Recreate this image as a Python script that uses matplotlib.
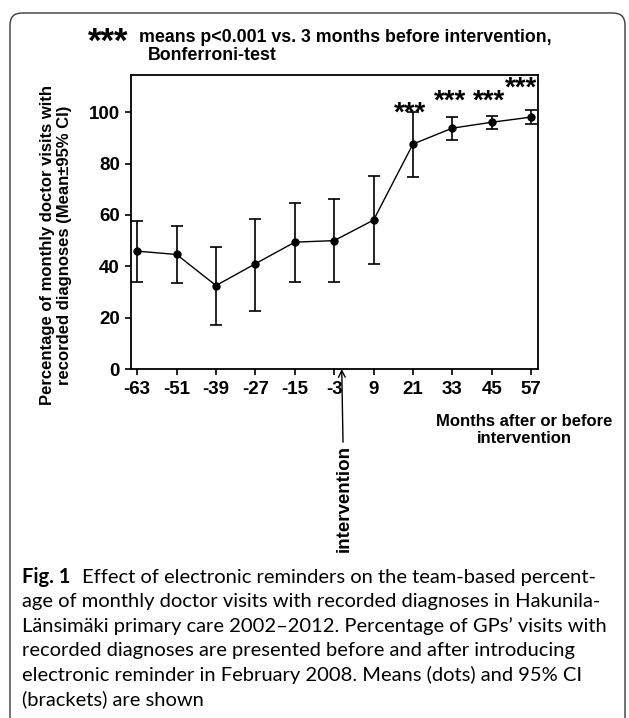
import matplotlib
matplotlib.use("Agg")
import matplotlib.pyplot as plt
from matplotlib.patches import FancyBboxPatch
import numpy as np

# months relative to the intervention (Feb 2008)
months = [-63, -51, -39, -27, -15, -3, 9, 21, 33, 45, 57]
mean_pct = [45.9, 44.6, 32.5, 41.0, 49.4, 50.0, 58.0, 87.6, 93.8, 96.1, 98.1]
ci_low = [33.8, 33.5, 17.0, 22.6, 33.8, 33.8, 40.7, 74.9, 89.3, 93.5, 95.5]
ci_high = [57.5, 55.6, 47.5, 58.3, 64.8, 66.1, 75.3, 100.0, 98.1, 98.7, 100.7]

xtick_labels = ["-63", "-51", "-39", "-27", "-15", "-3", "9", "21", "33", "45", "57"]
yticks = [0, 20, 40, 60, 80, 100]

# significance stars (x, y in data units)
star_x = [20.0, 32.3, 44.3, 53.8]
star_y = [99.5, 104.0, 104.0, 109.0]

caption_lines = [
    "age of monthly doctor visits with recorded diagnoses in Hakunila-",
    "Länsimäki primary care 2002–2012. Percentage of GPs’ visits with",
    "recorded diagnoses are presented before and after introducing",
    "electronic reminder in February 2008. Means (dots) and 95% CI",
    "(brackets) are shown",
]

W, H = 629, 718


def fx(px):
    return px / W


def fy(py):
    return 1 - py / H


plt.rcParams['font.family'] = ['Liberation Sans', 'DejaVu Sans']
cap_font = ['Lato', 'DejaVu Sans']

fig = plt.figure(figsize=(W / 100, H / 100), dpi=100)

# rounded frame around figure + caption (open at bottom)
frame = FancyBboxPatch((0.10, -0.5), 6.15, 7.55, boxstyle="round,pad=0,rounding_size=0.12",
                       transform=fig.dpi_scale_trans, facecolor="none",
                       edgecolor="#3a3a3a", lw=1.0)
fig.patches.append(frame)

ax = fig.add_axes([fx(131), fy(369), fx(538) - fx(131), fy(75) - fy(369)])

mean_arr = np.array(mean_pct)
yerr = [mean_arr - np.array(ci_low), np.array(ci_high) - mean_arr]
ax.errorbar(months, mean_pct, yerr=yerr, fmt='-o', color='black', ms=5, lw=1.0,
            elinewidth=1.2, capsize=4, capthick=1.2)

for sx, sy in zip(star_x, star_y):
    ax.text(sx, sy, "***", ha='center', va='center', fontsize=20, fontweight='bold')

ax.set_xlim(-64.9, 59.1)
ax.set_ylim(0, 114.5)
ax.set_xticks(months)
ax.set_xticklabels(xtick_labels)
ax.set_yticks(yticks)
for sp in ax.spines.values():
    sp.set_linewidth(1.3)
ax.tick_params(axis='both', direction='out', length=4, width=1.2, labelsize=13.5)
ax.tick_params(axis='x', pad=5)
ax.tick_params(axis='y', pad=4)
for lab in ax.get_xticklabels() + ax.get_yticklabels():
    lab.set_fontweight('bold')

# y axis label (two lines)
fig.text(fx(56), fy(245), "Percentage of monthly doctor visits with\nrecorded diagnoses (Mean±95% CI)",
         rotation=90, ha='center', va='center', fontsize=12, fontweight='bold', linespacing=1.2)

# x axis label
fig.text(fx(524), fy(430), "Months after or before\nintervention", ha='center', va='center',
         fontsize=12, fontweight='bold', linespacing=1.1)

# title
fig.text(fx(88), fy(42), "***", ha='left', va='center', fontsize=25, fontweight='bold')
fig.text(fx(139), fy(37), "means p<0.001 vs. 3 months before intervention,", ha='left', va='center',
         fontsize=12.8, fontweight='bold')
fig.text(fx(148), fy(56), "Bonferroni-test", ha='left', va='center', fontsize=12.8, fontweight='bold')

# intervention arrow
ax.annotate("intervention", xy=(-0.7, 0), xycoords='data',
            xytext=(fx(344), fy(445)), textcoords='figure fraction',
            rotation=90, ha='center', va='top', fontsize=13.5, fontweight='bold',
            arrowprops=dict(arrowstyle='->', color='black', lw=1.0, shrinkA=0, shrinkB=0,
                            mutation_scale=12))

# caption
fig.text(fx(22), fy(577), "Fig. 1", ha='left', va='center', fontsize=14.5, fontweight='bold',
         family=cap_font)
fig.text(fx(82), fy(577), "Effect of electronic reminders on the team-based percent-", ha='left',
         va='center', fontsize=14.5, family=cap_font)
for i, line in enumerate(caption_lines):
    fig.text(fx(22), fy(601.5 + i * 24.4), line, ha='left', va='center', fontsize=14.5,
             family=cap_font)

fig.savefig("out.png", dpi=100)
